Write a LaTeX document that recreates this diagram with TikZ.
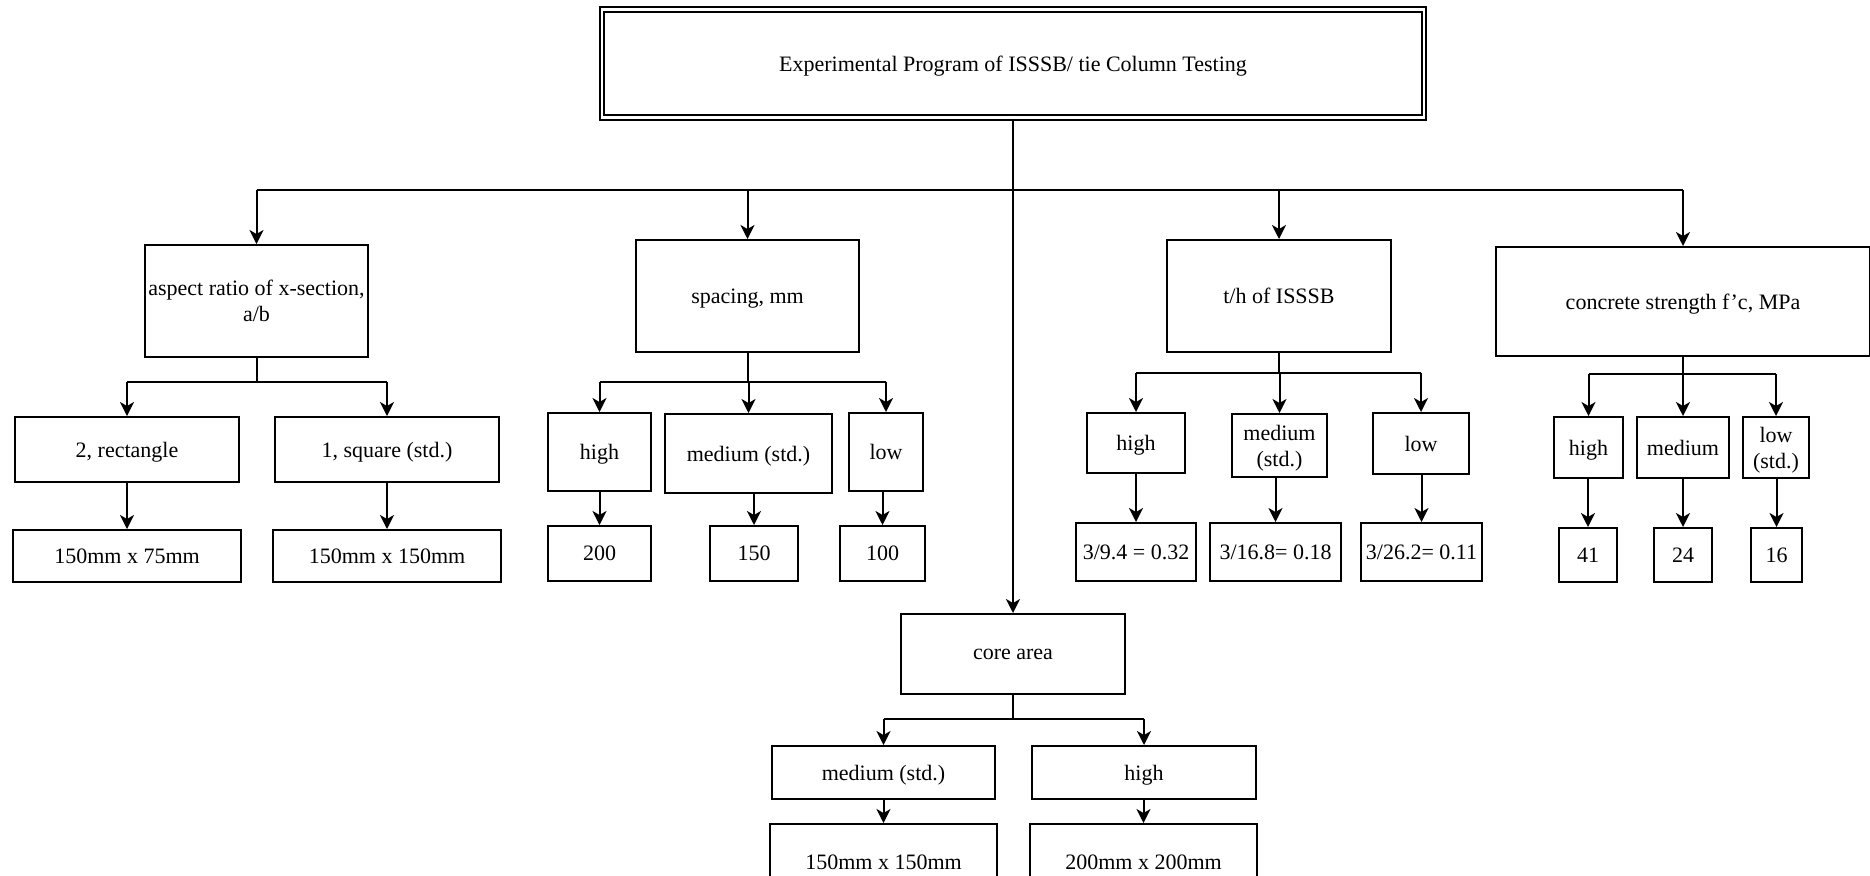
\documentclass[tikz,border=0pt]{standalone}
\usepackage{fontspec}
\setmainfont{Liberation Serif}
\usetikzlibrary{arrows.meta}
\begin{document}
\begin{tikzpicture}[x=0.5pt,y=-0.5pt,
  box/.style={draw,line width=1pt,align=center,inner sep=0pt,text depth=0pt},
  sz/.style 2 args={minimum width=#1*0.5pt,minimum height=#2*0.5pt},
  ln/.style={line width=1pt},
  arr/.style={line width=1pt,-{Stealth[length=7pt,width=7pt,inset=2pt]}}]
\fontsize{11}{13}\selectfont
\clip (0,0) rectangle (1870,875);
\node[box,sz={822}{108},double,double distance=1.2pt] (top) at (1013,63.5) {Experimental Program of ISSSB/ tie Column Testing};
\node[box,sz={223}{112}] (asp) at (256.5,301) {aspect ratio of x-section,\\a/b};
\node[box,sz={223}{112}] (spc) at (747.5,296) {spacing, mm};
\node[box,sz={224}{112}] (th) at (1279,296) {t/h of ISSSB};
\node[box,sz={374}{109}] (con) at (1683,301.5) {concrete strength f'c, MPa};
\node[box,sz={224}{80}] (core) at (1013,654) {core area};
\coordinate (j0) at (1013,190);
\draw[ln] (top.south) -- (j0);
\draw[ln] (asp.north |- j0) -- (con.north |- j0);
\foreach \n in {asp,spc,th,con} \draw[arr] (\n.north |- j0) -- (\n);
\draw[arr] (j0) -- (core);
% aspect ratio
\node[box,sz={224}{65}] (a2) at (127,449.5) {2, rectangle};
\node[box,sz={224}{65}] (a1) at (387,449.5) {1, square (std.)};
\node[box,sz={228}{52}] (a75) at (127,556) {150mm x 75mm};
\node[box,sz={228}{52}] (a150) at (387,556) {150mm x 150mm};
\coordinate (j1) at (256.5,382);
\draw[ln] (asp) -- (j1);
\draw[ln] (a2.north |- j1) -- (a1.north |- j1);
% spacing
\node[box,sz={103}{78}] (sh) at (599.5,452) {high};
\node[box,sz={167}{79}] (sm) at (748.5,453.5) {medium (std.)};
\node[box,sz={74}{78}] (sl) at (886,452) {low};
\node[box,sz={103}{55}] (s200) at (599.5,553.5) {200};
\node[box,sz={88}{55}] (s150) at (754,553.5) {150};
\node[box,sz={85}{55}] (s100) at (882.5,553.5) {100};
\coordinate (j2) at (747.5,382);
\draw[ln] (spc) -- (j2);
\draw[ln] (sh.north |- j2) -- (sl.north |- j2);
% t/h
\node[box,sz={98}{60}] (th1) at (1136,443) {high};
\node[box,sz={95}{63}] (th2) at (1279.5,445.5) {medium\\(std.)};
\node[box,sz={96}{61}] (th3) at (1421,443.5) {low};
\node[box,sz={120}{58}] (r1) at (1136,552) {3/9.4 = 0.32};
\node[box,sz={131}{58}] (r2) at (1275.5,552) {3/16.8= 0.18};
\node[box,sz={121}{58}] (r3) at (1421.5,552) {3/26.2= 0.11};
\coordinate (j3) at (1279,373);
\draw[ln] (th) -- (j3);
\draw[ln] (th1.north |- j3) -- (th3.north |- j3);
% concrete
\node[box,sz={69}{61}] (c1) at (1588.5,447.5) {high};
\node[box,sz={92}{61}] (c2) at (1683,447.5) {medium};
\node[box,sz={66}{61}] (c3) at (1776,447.5) {low\\(std.)};
\node[box,sz={58}{54}] (f41) at (1588,555) {41};
\node[box,sz={58}{54}] (f24) at (1683,555) {24};
\node[box,sz={51}{54}] (f16) at (1776.5,555) {16};
\coordinate (j4) at (1683,374);
\draw[ln] (con) -- (j4);
\draw[ln] (c1.north |- j4) -- (c3.north |- j4);
% core
\node[box,sz={223}{53}] (k1) at (883.5,772.5) {medium (std.)};
\node[box,sz={224}{53}] (k2) at (1144,772.5) {high};
\node[box,sz={227}{76}] (k150) at (883.5,862) {150mm x 150mm};
\node[box,sz={227}{76}] (k200) at (1143.5,862) {200mm x 200mm};
\coordinate (j5) at (1013,719);
\draw[ln] (core) -- (j5);
\draw[ln] (k1.north |- j5) -- (k2.north |- j5);
\foreach \n/\j in {a2/j1,a1/j1,sh/j2,sm/j2,sl/j2,th1/j3,th2/j3,th3/j3,c1/j4,c2/j4,c3/j4,k1/j5,k2/j5}
  \draw[arr] (\n.north |- \j) -- (\n);
\foreach \a/\b in {a2/a75,a1/a150,sh/s200,sm/s150,sl/s100,th1/r1,th2/r2,th3/r3,c1/f41,c2/f24,c3/f16,k1/k150,k2/k200}
  \draw[arr] (\b.north |- \a.south) -- (\b);
\end{tikzpicture}
\end{document}
